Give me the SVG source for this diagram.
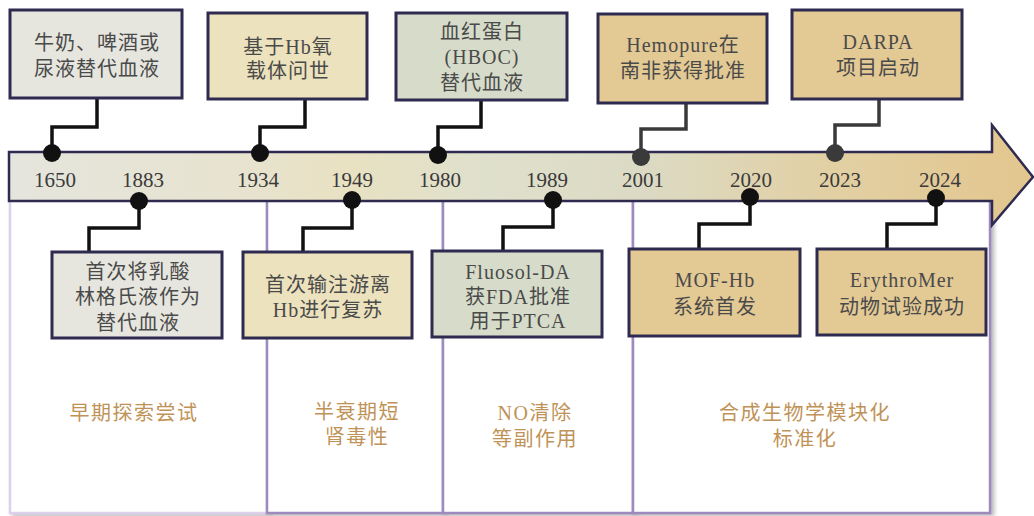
<svg xmlns="http://www.w3.org/2000/svg" width="1034" height="516" viewBox="0 0 1034 516">
  <defs>
    <linearGradient id="axisFill" x1="0" y1="0" x2="1" y2="0">
      <stop offset="0" stop-color="#e5e5dd"/>
      <stop offset="0.22" stop-color="#e7e3d0"/>
      <stop offset="0.33" stop-color="#e9e1c2"/>
      <stop offset="0.46" stop-color="#dfe0cc"/>
      <stop offset="0.62" stop-color="#dcdac4"/>
      <stop offset="0.8" stop-color="#e2d0a4"/>
      <stop offset="1" stop-color="#e3c68e"/>
    </linearGradient>
    <filter id="panelShadow" x="-5%" y="-5%" width="115%" height="115%">
      <feDropShadow dx="3" dy="2" stdDeviation="2" flood-color="#7a7a7a" flood-opacity="0.55"/>
    </filter>
  </defs>
  <style>
    .panel { fill: #ffffff; stroke: #9d8bbd; stroke-width: 2.5; }
    .panel.first { stroke: #ddd0ea; }
    .box { stroke: #2f2b50; stroke-width: 3; }
    .gray { fill: #e6e6df; }
    .sand { fill: #ece2bd; }
    .sage { fill: #d6dcc9; }
    .tan { fill: #e3c994; }
    .label { font-family: "Liberation Serif", "Noto Sans CJK SC", serif; font-size: 20px; letter-spacing: 1px; fill: #4a4a4a; text-anchor: middle; }
    .year { font-family: "Liberation Serif", "Noto Sans CJK SC", serif; font-size: 21px; fill: #3a3a3a; text-anchor: middle; }
    .phase { font-family: "Liberation Serif", "Noto Sans CJK SC", serif; font-size: 20px; letter-spacing: 1.5px; fill: #bf9358; text-anchor: middle; }
    .link { fill: none; stroke: #111111; stroke-width: 3.5; }
    .link.soft { stroke: #3a3a3a; }
    .dot { fill: #111111; }
    .dot.soft { fill: #3a3a3a; }
  </style>

  <rect width="1034" height="516" fill="#ffffff"/>

  <!-- era panels below the axis -->
  <g id="panels">
    <g id="panel-early">
      <rect class="panel first" x="10" y="200" width="257" height="313" filter="url(#panelShadow)"/>
      <text class="phase" x="134" y="420">早期探索尝试</text>
    </g>
    <g id="panel-halflife">
      <rect class="panel" x="267" y="200" width="176" height="313" filter="url(#panelShadow)"/>
      <text class="phase" x="357" y="419">半衰期短</text>
      <text class="phase" x="357" y="444">肾毒性</text>
    </g>
    <g id="panel-no">
      <rect class="panel" x="443" y="200" width="190" height="313" filter="url(#panelShadow)"/>
      <text class="phase" x="535" y="420">NO清除</text>
      <text class="phase" x="535" y="446">等副作用</text>
    </g>
    <g id="panel-synbio">
      <rect class="panel" x="633" y="200" width="357" height="313" filter="url(#panelShadow)"/>
      <text class="phase" x="805" y="420">合成生物学模块化</text>
      <text class="phase" x="805" y="446">标准化</text>
    </g>
  </g>

  <!-- time axis arrow -->
  <g id="axis">
    <path d="M9,152 H992 V125 L1033,177 L992,225 V201 H9 Z" fill="url(#axisFill)" stroke="#2f2b50" stroke-width="2.5" stroke-linejoin="miter"/>
    <text class="year" x="55" y="187">1650</text>
    <text class="year" x="143" y="187">1883</text>
    <text class="year" x="258" y="187">1934</text>
    <text class="year" x="352" y="187">1949</text>
    <text class="year" x="440" y="187">1980</text>
    <text class="year" x="547" y="187">1989</text>
    <text class="year" x="643" y="187">2001</text>
    <text class="year" x="751" y="187">2020</text>
    <text class="year" x="840" y="187">2023</text>
    <text class="year" x="940" y="187">2024</text>
  </g>

  <!-- leader lines and year markers -->
  <g id="connectors">
    <path class="link" d="M97,98 V127 H52 V153"/>
    <path class="link" d="M305,99 V127 H260 V153"/>
    <path class="link" d="M481,100 V127 H438 V154"/>
    <path class="link soft" d="M686,103 V129 H641 V156"/>
    <path class="link soft" d="M879,99 V125 H835 V153"/>
    <path class="link" d="M139,201 V228 H89 V252"/>
    <path class="link" d="M352,200 V228 H303 V252"/>
    <path class="link" d="M553,200 V227 H503 V251"/>
    <path class="link" d="M750,198 V224 H699 V249"/>
    <path class="link" d="M936,198 V224 H887 V249"/>

    <circle class="dot" cx="52" cy="153" r="9"/>
    <circle class="dot" cx="260" cy="153" r="9"/>
    <circle class="dot" cx="438" cy="155" r="9"/>
    <circle class="dot soft" cx="641" cy="157" r="9"/>
    <circle class="dot soft" cx="835" cy="153" r="9"/>
    <circle class="dot" cx="139" cy="201" r="9"/>
    <circle class="dot" cx="352" cy="200" r="9"/>
    <circle class="dot" cx="553" cy="200" r="9"/>
    <circle class="dot" cx="750" cy="197" r="9"/>
    <circle class="dot" cx="936" cy="198" r="9"/>
  </g>

  <!-- events above the axis -->
  <g id="ev-1650">
    <rect class="box gray" x="10" y="10" width="172" height="88"/>
    <text class="label" x="97" y="50">牛奶、啤酒或</text>
    <text class="label" x="97" y="76">尿液替代血液</text>
  </g>
  <g id="ev-1934">
    <rect class="box sand" x="208" y="13" width="159" height="86"/>
    <text class="label" x="288" y="54">基于Hb氧</text>
    <text class="label" x="288" y="78">载体问世</text>
  </g>
  <g id="ev-1980">
    <rect class="box sage" x="396" y="13" width="171" height="87"/>
    <text class="label" x="482" y="39">血红蛋白</text>
    <text class="label" x="482" y="64">(HBOC)</text>
    <text class="label" x="482" y="90">替代血液</text>
  </g>
  <g id="ev-2001">
    <rect class="box tan" x="598" y="14" width="169" height="89"/>
    <text class="label" x="683" y="52">Hemopure在</text>
    <text class="label" x="683" y="78">南非获得批准</text>
  </g>
  <g id="ev-2023">
    <rect class="box tan" x="792" y="10" width="170" height="89"/>
    <text class="label" x="878" y="49">DARPA</text>
    <text class="label" x="878" y="75">项目启动</text>
  </g>

  <!-- events below the axis -->
  <g id="ev-1883">
    <rect class="box gray" x="52" y="252" width="170" height="86"/>
    <text class="label" x="138" y="279">首次将乳酸</text>
    <text class="label" x="138" y="304">林格氏液作为</text>
    <text class="label" x="138" y="330">替代血液</text>
  </g>
  <g id="ev-1949">
    <rect class="box sand" x="243" y="252" width="169" height="86"/>
    <text class="label" x="328" y="292">首次输注游离</text>
    <text class="label" x="328" y="317">Hb进行复苏</text>
  </g>
  <g id="ev-1989">
    <rect class="box sage" x="432" y="251" width="170" height="86"/>
    <text class="label" x="518" y="279">Fluosol-DA</text>
    <text class="label" x="518" y="304">获FDA批准</text>
    <text class="label" x="518" y="328">用于PTCA</text>
  </g>
  <g id="ev-2020">
    <rect class="box tan" x="629" y="249" width="171" height="87"/>
    <text class="label" x="715" y="287">MOF-Hb</text>
    <text class="label" x="715" y="314">系统首发</text>
  </g>
  <g id="ev-2024">
    <rect class="box tan" x="817" y="249" width="169" height="86"/>
    <text class="label" x="902" y="287">ErythroMer</text>
    <text class="label" x="902" y="314">动物试验成功</text>
  </g>
</svg>
